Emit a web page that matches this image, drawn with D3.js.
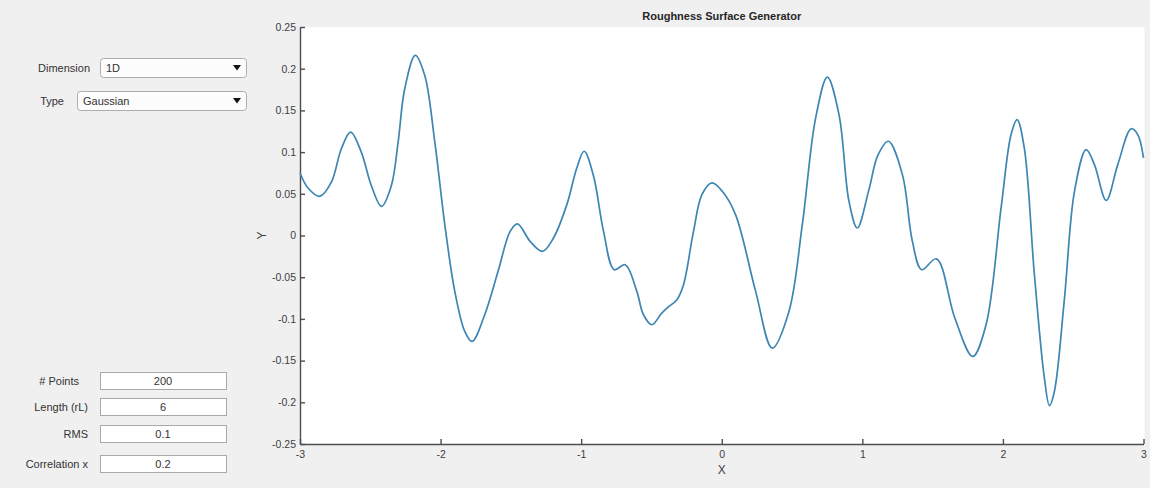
<!DOCTYPE html>
<html><head><meta charset="utf-8">
<script src="https://cdn.jsdelivr.net/npm/d3@7"></script>
<style>
html,body{margin:0;padding:0;background:#f0f0f0;}
svg{display:block;font-family:"Liberation Sans",Arial,sans-serif;}
</style></head>
<body>
<svg id="chart" width="1150" height="488"></svg>
<script>
// ---- data ----
const xValues = [-3.000,-2.943,-2.860,-2.777,-2.706,-2.640,-2.564,-2.493,-2.420,-2.350,-2.302,-2.255,-2.180,-2.113,-2.041,-1.970,-1.899,-1.828,-1.776,-1.686,-1.591,-1.505,-1.453,-1.363,-1.275,-1.197,-1.102,-1.031,-0.979,-0.913,-0.841,-0.765,-0.687,-0.604,-0.557,-0.497,-0.427,-0.390,-0.319,-0.272,-0.201,-0.141,-0.070,0.004,0.098,0.241,0.359,0.478,0.573,0.668,0.751,0.834,0.905,0.964,1.047,1.110,1.185,1.285,1.356,1.422,1.527,1.658,1.785,1.880,1.987,2.058,2.101,2.152,2.224,2.295,2.331,2.366,2.438,2.509,2.592,2.651,2.735,2.817,2.912,2.959,3.000];
const yValues = [0.075,0.057,0.047,0.064,0.104,0.124,0.100,0.060,0.035,0.060,0.112,0.176,0.216,0.192,0.112,0.013,-0.067,-0.115,-0.127,-0.095,-0.043,0.005,0.014,-0.007,-0.019,-0.003,0.037,0.081,0.101,0.072,0.005,-0.041,-0.035,-0.067,-0.095,-0.107,-0.093,-0.087,-0.077,-0.059,0.005,0.049,0.063,0.053,0.025,-0.067,-0.135,-0.091,0.013,0.141,0.190,0.145,0.041,0.009,0.055,0.096,0.113,0.073,-0.007,-0.041,-0.028,-0.099,-0.145,-0.107,0.033,0.121,0.139,0.105,-0.047,-0.171,-0.204,-0.187,-0.075,0.053,0.103,0.085,0.042,0.085,0.128,0.121,0.093];
const xTicks = [-3,-2,-1,0,1,2,3];
const yTicks = [-0.25,-0.2,-0.15,-0.1,-0.05,0,0.05,0.1,0.15,0.2,0.25];
const titleText = "Roughness Surface Generator";
const xLabel = "X", yLabel = "Y";
const dropdownLabels = ["Dimension","Type"];
const dropdownValues = ["1D","Gaussian"];
const fieldLabels = ["# Points","Length (rL)","RMS","Correlation x"];
const fieldValues = ["200","6","0.1","0.2"];

// ---- layout ----
const svg = d3.select("#chart");
const L = 300, R = 1143.5, T = 27, B = 444;
const textCol = "#333";

svg.append("rect").attr("width",1150).attr("height",488).attr("fill","#f0f0f0");
svg.append("rect").attr("x",L).attr("y",T).attr("width",R-L+1).attr("height",B-T).attr("fill","#fff");

const x = d3.scaleLinear().domain([-3,3]).range([L,R]);
const y = d3.scaleLinear().domain([-0.25,0.25]).range([B,T]);

const fmt = d => String(+d.toFixed(2));

const gx = svg.append("g").attr("transform",`translate(0,${B})`)
  .call(d3.axisBottom(x).tickValues(xTicks).tickFormat(fmt).tickSizeInner(-5).tickSizeOuter(0).tickPadding(7));
const gy = svg.append("g").attr("transform",`translate(${L},0)`)
  .call(d3.axisLeft(y).tickValues(yTicks).tickFormat(fmt).tickSizeInner(-5).tickSizeOuter(0).tickPadding(4));
[gx,gy].forEach(g=>{
  g.select(".domain").attr("stroke","#4d4d4d").attr("stroke-width",1.4);
  g.selectAll(".tick line").attr("stroke","#4d4d4d").attr("stroke-width",1.4);
  g.selectAll(".tick text").attr("fill","#404040").attr("font-size","10.5px").attr("font-family","Liberation Sans, Arial, sans-serif");
});

// line
const line = d3.line().x((d,i)=>x(xValues[i])).y((d,i)=>y(yValues[i])).curve(d3.curveCatmullRom.alpha(0.5));
svg.append("path").datum(yValues).attr("d",line).attr("fill","none")
  .attr("stroke","#3d85b2").attr("stroke-width",1.7).attr("stroke-linejoin","round");

// title and axis labels
svg.append("text").attr("x",(L+R)/2).attr("y",20).attr("text-anchor","middle")
  .attr("font-size","11px").attr("font-weight","bold").attr("fill","#262626").text(titleText);
svg.append("text").attr("x",(L+R)/2).attr("y",474).attr("text-anchor","middle")
  .attr("font-size","12px").attr("fill","#404040").text(xLabel);
svg.append("text").attr("transform",`translate(266,${(T+B)/2}) rotate(-90)`).attr("text-anchor","middle")
  .attr("font-size","12px").attr("fill","#404040").text(yLabel);

// dropdown controls
const dd = [
  {lx:90, bx:100, by:58, bw:146, bh:19},
  {lx:64, bx:77, by:91, bw:169, bh:19}
];
dd.forEach((c,i)=>{
  svg.append("text").attr("x",c.lx).attr("y",c.by+c.bh/2+4).attr("text-anchor","end")
    .attr("font-size","11px").attr("fill",textCol).text(dropdownLabels[i]);
  svg.append("rect").attr("x",c.bx+0.5).attr("y",c.by+0.5).attr("width",c.bw).attr("height",c.bh)
    .attr("rx",3).attr("fill","#fcfcfc").attr("stroke","#adadad");
  svg.append("text").attr("x",c.bx+6).attr("y",c.by+c.bh/2+4)
    .attr("font-size","11px").attr("fill",textCol).text(dropdownValues[i]);
  const ax = c.bx+c.bw-9, ay = c.by+c.bh/2;
  svg.append("path").attr("d",`M${ax-4},${ay-2.5}L${ax+4},${ay-2.5}L${ax},${ay+3}Z`).attr("fill","#111");
});

// edit fields
const fy = [372, 398, 425, 455];
const fx = [79, 88, 88, 88];
fieldLabels.forEach((lab,i)=>{
  svg.append("text").attr("x",fx[i]).attr("y",fy[i]+13).attr("text-anchor","end")
    .attr("font-size","11px").attr("fill",textCol).text(lab);
  svg.append("rect").attr("x",100.5).attr("y",fy[i]+0.5).attr("width",126).attr("height",17)
    .attr("fill","#fff").attr("stroke","#a8a8a8");
  svg.append("text").attr("x",163).attr("y",fy[i]+13).attr("text-anchor","middle")
    .attr("font-size","11px").attr("fill",textCol).text(fieldValues[i]);
});
</script>
</body></html>
